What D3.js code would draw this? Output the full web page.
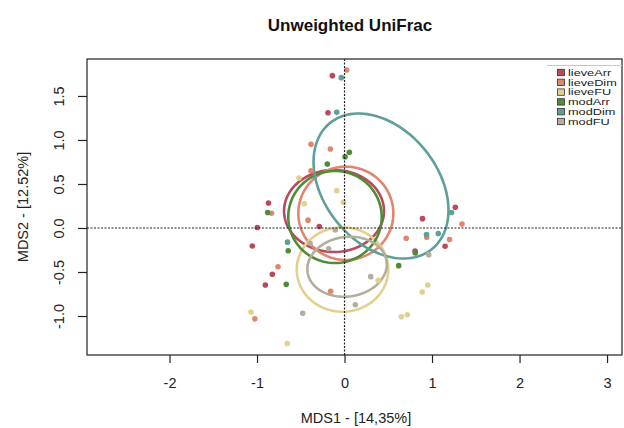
<!DOCTYPE html>
<html>
<head>
<meta charset="utf-8">
<script src="https://cdn.jsdelivr.net/npm/d3@7"></script>
<style>
  html, body { margin: 0; padding: 0; background: #ffffff; }
  svg { display: block; font-family: "Liberation Sans", Arial, Helvetica, sans-serif; }
</style>
</head>
<body>
<svg id="chart" width="624" height="428"></svg>
<script>
// ---- Sample groups and their colours ----
const groups = ["lieveArr", "lieveDim", "lieveFU", "modArr", "modDim", "modFU"];
const groupColors = ["#b84a5c", "#e0866f", "#e3d08d", "#4f8c36", "#5f9f99", "#b3af9e"];

// ---- MDS scores (MDS1, MDS2) per sample, by group ----
const lieveArr = [[-0.139, 1.731], [-0.189, 1.310], [-0.869, 0.284], [-0.997, 0.006], [-0.288, 0.017],
  [-1.054, -0.205], [-0.825, -0.525], [-0.905, -0.648], [0.891, 0.106], [1.266, 0.235], [1.149, -0.207], [0.806, -0.261]];
const lieveDim = [[0.025, 1.795], [-0.383, 0.951], [-0.162, 0.898], [-0.383, 0.651], [-0.834, 0.167],
  [-0.417, 0.089], [-0.760, -0.440], [-0.158, -0.718], [-1.025, -1.032], [1.343, 0.045], [0.705, -0.117],
  [0.939, -0.106], [1.200, -0.131]];
const lieveFU = [[-0.520, 0.568], [-0.089, 0.424], [-0.461, 0.276], [-0.014, 0.292], [0.385, -0.593],
  [0.951, -0.648], [0.888, -0.727], [0.718, -0.985], [0.649, -1.008], [-1.069, -0.955], [-0.654, -1.313]];
const modArr = [[-0.197, 0.727], [0.055, 0.860], [0.006, 0.810], [-0.878, 0.176], [-0.643, -0.259],
  [-0.666, -0.640], [0.809, -0.284], [0.619, -0.428]];
const modDim = [[-0.037, 1.708], [-0.089, 1.315], [-0.651, -0.161], [1.223, 0.176], [0.937, -0.074], [1.072, -0.063]];
const modFU = [[-0.105, -0.023], [-0.394, -0.174], [-0.181, -0.235], [0.299, -0.553], [0.123, -0.872],
  [-0.478, -0.969], [0.962, -0.303]];
const groupPoints = [lieveArr, lieveDim, lieveFU, modArr, modDim, modFU];

// ---- Group ellipses: centre, half-extent along each axis, correlation ----
const ellipseCx = [-0.120, 0.015, -0.023, -0.109, 0.417, 0.029];
const ellipseCy = [0.193, 0.167, -0.472, 0.125, 0.477, -0.440];
const ellipseHalfX = [0.571, 0.543, 0.523, 0.534, 0.771, 0.454];
const ellipseHalfY = [0.466, 0.530, 0.480, 0.523, 0.824, 0.341];
const ellipseCorr = [0.0, 0.0, 0.0, 0.0, -0.333, 0.08];

// ---- Axes ----
const xLimits = [-2.943, 3.171];
const yLimits = [-1.443, 1.920];
const xTicks = [-2, -1, 0, 1, 2, 3];
const xTickLabels = ["-2", "-1", "0", "1", "2", "3"];
const yTicks = [-1.0, -0.5, 0.0, 0.5, 1.0, 1.5];
const yTickLabels = ["-1.0", "-0.5", "0.0", "0.5", "1.0", "1.5"];
const titleText = "Unweighted UniFrac";
const xTitle = "MDS1 - [14,35%]";
const yTitle = "MDS2 - [12.52%]";

// ---- Layout ----
const plot = { left: 87, right: 622, top: 59, bottom: 355 };
const svg = d3.select("#chart");

const x = d3.scaleLinear().domain(xLimits).range([plot.left, plot.right]);
const y = d3.scaleLinear().domain(yLimits).range([plot.bottom, plot.top]);

// Title
svg.append("text")
  .attr("x", 350).attr("y", 31)
  .attr("text-anchor", "middle")
  .attr("font-size", 17)
  .attr("font-weight", "bold")
  .attr("fill", "#111")
  .text(titleText);

// Clip area for plot contents
svg.append("clipPath").attr("id", "plotClip")
  .append("rect")
  .attr("x", plot.left).attr("y", plot.top)
  .attr("width", plot.right - plot.left).attr("height", plot.bottom - plot.top);

const inner = svg.append("g").attr("clip-path", "url(#plotClip)");

// Ellipses, traced in data space and mapped through the scales
const ellipseLine = d3.line().x(d => x(d[0])).y(d => y(d[1])).curve(d3.curveLinearClosed);
groups.forEach((g, i) => {
  const pts = d3.range(0, 120).map(k => {
    const t = (k / 120) * 2 * Math.PI;
    const r = ellipseCorr[i];
    const ex = ellipseCx[i] + ellipseHalfX[i] * Math.cos(t);
    const ey = ellipseCy[i] + ellipseHalfY[i] * (r * Math.cos(t) + Math.sqrt(1 - r * r) * Math.sin(t));
    return [ex, ey];
  });
  inner.append("path")
    .attr("d", ellipseLine(pts))
    .attr("fill", "none")
    .attr("stroke", groupColors[i])
    .attr("stroke-width", 2.6);
});

// Sample points
groups.forEach((g, i) => {
  inner.append("g").selectAll("circle")
    .data(groupPoints[i])
    .join("circle")
    .attr("cx", d => x(d[0]))
    .attr("cy", d => y(d[1]))
    .attr("r", 2.8)
    .attr("fill", groupColors[i]);
});

// Reference lines through the origin
inner.append("line")
  .attr("x1", x(0)).attr("x2", x(0))
  .attr("y1", plot.top).attr("y2", plot.bottom)
  .attr("stroke", "#222").attr("stroke-width", 1.2)
  .attr("stroke-dasharray", "2,1.5");
inner.append("line")
  .attr("x1", plot.left).attr("x2", plot.right)
  .attr("y1", y(0)).attr("y2", y(0))
  .attr("stroke", "#222").attr("stroke-width", 1.2)
  .attr("stroke-dasharray", "2,1.5");

// Frame
svg.append("rect")
  .attr("x", plot.left).attr("y", plot.top)
  .attr("width", plot.right - plot.left).attr("height", plot.bottom - plot.top)
  .attr("fill", "none").attr("stroke", "#222").attr("stroke-width", 1.2);

// X axis
const xAxis = svg.append("g")
  .attr("transform", `translate(0,${plot.bottom})`)
  .call(d3.axisBottom(x).tickValues(xTicks)
    .tickFormat((d, i) => xTickLabels[i]).tickSize(8).tickSizeOuter(0));
xAxis.select(".domain").remove();
xAxis.selectAll(".tick line").attr("stroke", "#222").attr("stroke-width", 1.2);
xAxis.selectAll(".tick text")
  .attr("y", 33).attr("dy", 0)
  .attr("font-size", 14.5)
  .attr("font-family", "Liberation Sans, Arial, sans-serif")
  .attr("fill", "#222");

// Y axis (labels parallel to the axis)
const yAxis = svg.append("g")
  .attr("transform", `translate(${plot.left},0)`)
  .call(d3.axisLeft(y).tickValues(yTicks)
    .tickFormat((d, i) => yTickLabels[i]).tickSize(9).tickSizeOuter(0));
yAxis.select(".domain").remove();
yAxis.selectAll(".tick line").attr("stroke", "#222").attr("stroke-width", 1.2);
yAxis.selectAll(".tick text")
  .attr("x", 0).attr("dy", 0)
  .attr("text-anchor", "middle")
  .attr("transform", "translate(-23,0) rotate(-90)")
  .attr("font-size", 14.5)
  .attr("font-family", "Liberation Sans, Arial, sans-serif")
  .attr("fill", "#222");

// Axis titles
svg.append("text")
  .attr("x", 356).attr("y", 423)
  .attr("text-anchor", "middle")
  .attr("font-size", 14.5)
  .attr("fill", "#222")
  .text(xTitle);
svg.append("text")
  .attr("transform", `translate(28,${(plot.top + plot.bottom) / 2}) rotate(-90)`)
  .attr("text-anchor", "middle")
  .attr("font-size", 14.5)
  .attr("fill", "#222")
  .text(yTitle);

// Legend (wide, compact lettering)
const legend = svg.append("g");
legend.append("line")
  .attr("x1", 547).attr("x2", plot.right)
  .attr("y1", 65.5).attr("y2", 65.5)
  .attr("stroke", "#c8c8c8").attr("stroke-width", 1);
groups.forEach((g, i) => {
  const cy = 72.5 + i * 9.8;
  legend.append("rect")
    .attr("x", 557.5).attr("y", cy - 3.2)
    .attr("width", 7).attr("height", 6.4)
    .attr("fill", groupColors[i])
    .attr("stroke", "#333").attr("stroke-width", 0.8);
  legend.append("text")
    .attr("transform", `translate(568,${cy + 3.3}) scale(1.48,1)`)
    .attr("font-size", 8.6)
    .attr("fill", "#1a1a1a")
    .text(g);
});
</script>
</body>
</html>
